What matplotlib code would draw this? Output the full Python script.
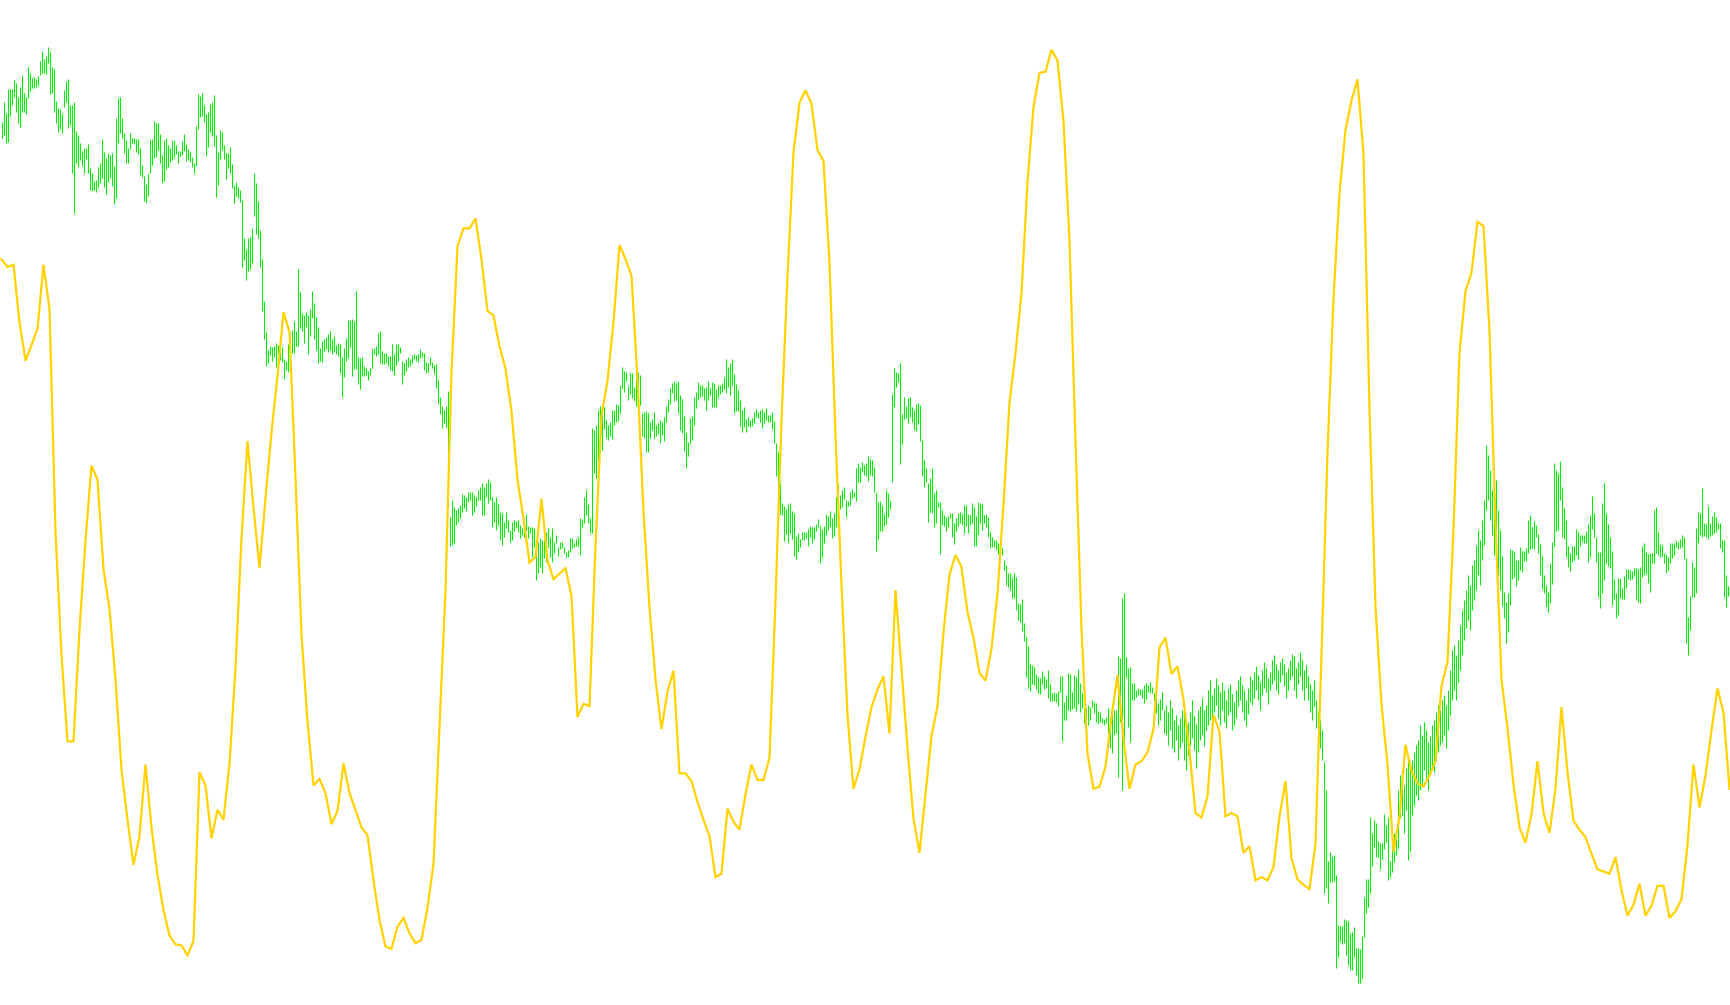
import numpy as np
import matplotlib
matplotlib.use("Agg")
import matplotlib.pyplot as plt

# ---- price bars (chart units, axis inverted: smaller = higher on screen) ----
bar_top = [
    122,102,113,89,89,89,80,83,97,87, 75,93,97,67,73,78,77,79,76,61,
    51,59,56,47,52,67,69,101,108,109, 114,90,81,79,105,105,102,131,135,143,
    151,148,148,144,168,173,181,180,167,163, 139,152,158,153,155,153,166,118,98,97,
    118,133,140,148,133,138,138,139,139,148, 165,176,184,174,139,139,121,123,123,134,
    155,140,138,145,148,141,140,145,151,151, 141,134,144,149,152,157,163,126,94,96,
    93,105,114,112,104,102,95,135,152,130, 132,145,153,153,147,164,185,182,187,190,
    200,238,249,238,237,228,173,183,201,230, 259,301,332,350,346,347,346,343,345,350,
    347,359,361,344,343,330,321,331,269,292, 313,315,312,315,309,291,303,317,327,348,
    341,339,337,334,331,339,336,345,343,344, 357,348,338,320,320,319,321,291,357,358,
    357,366,368,371,368,349,348,346,333,331, 351,353,353,356,356,344,354,344,344,347,
    361,363,359,357,359,355,354,355,354,349, 352,353,362,363,357,362,365,364,380,397,
    406,410,406,391,517,500,507,510,508,505, 494,495,497,492,492,492,495,497,490,487,
    483,487,483,479,482,497,502,497,503,512, 513,522,512,520,530,522,520,521,520,525,
    528,528,514,526,527,527,528,552,542,538, 540,540,532,528,537,528,542,535,547,542,
    542,547,552,550,538,538,543,539,537,518, 519,497,490,504,518,428,430,425,410,406,
    414,407,420,425,422,410,410,404,405,385, 367,371,372,386,373,373,387,378,372,375,
    413,412,411,413,422,419,412,425,423,420, 422,417,406,399,388,383,381,383,381,395,
    399,416,432,442,418,416,397,392,382,385, 385,388,387,381,388,382,383,389,385,385,
    383,377,359,367,363,359,374,384,390,400, 410,407,419,417,420,418,412,409,412,410,
    409,412,408,415,415,412,421,443,452,483, 503,506,509,504,503,511,513,536,533,539,
    532,532,532,529,526,527,527,524,519,526, 529,526,514,516,511,518,513,497,483,495,
    490,487,500,501,492,489,492,468,463,467, 462,465,463,456,459,460,467,493,502,501,
    505,514,490,493,501,394,368,372,373,363, 414,397,406,398,397,407,410,404,403,405,
    440,460,468,483,478,468,493,490,502,502, 510,515,517,516,513,513,523,518,513,512,
    514,505,505,514,515,503,507,516,502,503, 504,515,514,517,532,537,540,540,543,547,
    548,560,565,573,573,578,573,577,603,604, 599,623,637,646,664,665,667,674,677,678,
    671,676,679,670,684,693,692,693,691,676, 676,702,695,673,674,692,675,677,669,683,
    693,707,708,705,707,700,702,703,711,712, 718,719,717,708,718,713,710,710,656,658,
    598,593,657,668,667,683,683,690,688,689, 689,685,683,685,682,687,693,685,703,699,
    692,710,705,712,700,708,720,715,725,718, 710,705,730,722,712,700,716,724,710,706,
    698,710,705,690,680,695,688,678,685,692, 682,690,700,688,684,694,702,690,680,676,
    685,690,700,688,676,680,672,666,675,682, 670,662,668,678,672,660,655,664,670,662,
    658,664,672,668,660,654,656,668,662,652, 660,670,665,676,684,690,680,700,712,720,
    730,762,790,861,852,856,855,875,925,926, 926,919,920,921,933,932,927,948,948,949,
    936,897,879,879,817,833,820,823,841,843, 843,814,825,817,861,843,833,830,790,775,
    770,785,768,760,765,760,752,745,740,725, 735,722,730,742,736,725,720,712,705,710,
    700,695,705,690,670,650,645,655,640,625, 610,600,590,575,585,565,560,545,530,540,
    520,500,445,455,470,490,500,480,510,530, 556,592,602,593,549,550,551,560,560,547,
    551,551,548,520,515,527,521,525,534,544, 556,575,585,592,563,542,463,470,473,461,
    487,508,520,546,553,546,546,529,532,535, 535,535,531,524,515,496,513,537,552,552,
    503,483,513,524,537,551,579,593,578,578, 588,576,569,569,570,571,568,568,569,567,
    546,543,552,554,553,553,510,507,532,544, 545,553,554,557,543,543,543,540,542,539,
    535,537,558,617,596,562,567,528,512,513, 488,523,524,506,523,516,512,517,523,523,
    540,540,575,586,576,
]

bar_bot = [
    138,135,143,142,116,105,97,112,123,127, 112,112,114,98,91,88,88,87,85,75,
    73,73,74,63,94,93,112,123,132,129, 133,107,102,128,125,173,213,163,167,160,
    166,173,159,173,190,191,190,192,187,183, 178,187,194,182,178,186,204,198,143,133,
    138,153,163,163,149,143,144,152,154,175, 177,201,203,196,173,165,158,157,150,163,
    183,181,169,167,162,160,157,154,163,156, 155,151,161,160,162,167,173,166,129,117,
    116,122,156,147,132,136,146,197,185,159, 150,159,179,168,173,188,203,196,198,202,
    267,260,280,271,269,263,216,234,238,267, 311,339,366,363,355,361,357,367,354,360,
    362,379,370,372,351,353,353,346,346,328, 331,343,327,354,336,318,339,350,363,361,
    362,351,349,352,350,354,352,354,356,373, 397,377,361,358,347,376,369,369,384,389,
    376,376,375,380,375,368,354,356,354,363, 364,364,363,366,370,371,375,365,361,353,
    384,375,371,367,366,363,359,361,362,358, 357,370,373,372,365,368,374,388,404,414,
    428,423,427,485,546,545,543,525,522,518, 512,508,511,502,500,515,512,506,500,500,
    515,515,497,503,500,527,522,530,525,540, 545,537,528,532,542,540,531,528,532,538,
    535,537,530,538,533,557,547,580,573,567, 573,558,562,547,557,562,553,543,556,549,
    548,553,557,557,552,548,547,546,546,555, 527,523,515,523,533,533,473,478,460,440,
    450,429,438,440,436,439,425,422,421,413, 388,392,381,400,394,398,401,406,407,405,
    436,438,452,452,438,430,438,436,434,443, 435,441,422,412,404,393,401,400,413,430,
    433,451,468,456,443,440,425,408,400,397, 396,400,410,400,395,407,407,407,397,394,
    392,389,393,387,395,385,413,411,411,426, 432,427,432,426,427,426,423,417,418,422,
    428,423,420,422,422,429,443,476,487,514, 515,541,534,543,533,539,556,559,552,547,
    540,540,538,546,537,543,539,531,527,563, 557,543,535,530,527,538,536,527,508,509,
    507,499,517,506,505,498,497,501,482,482, 472,475,476,481,475,476,492,551,539,531,
    531,526,524,517,509,482,407,387,382,464, 444,419,418,423,417,422,430,431,424,441,
    476,487,482,522,512,513,527,523,507,554, 525,526,531,527,518,537,544,531,526,523,
    525,533,526,533,525,523,546,546,535,523, 530,523,527,537,548,547,547,550,554,553,
    555,570,585,587,590,598,598,610,620,622, 631,641,677,688,691,684,685,689,693,694,
    684,689,688,698,701,701,701,702,706,692, 741,720,720,710,711,709,708,711,704,712,
    708,723,726,725,720,707,713,722,724,722, 723,725,723,734,748,753,735,733,777,722,
    790,750,677,727,742,700,700,697,695,695, 698,703,699,692,693,693,701,713,725,720,
    710,733,735,745,730,748,752,740,760,748, 742,760,770,755,745,738,750,768,752,740,
    735,746,730,725,720,728,712,705,718,725, 710,722,728,715,712,730,725,718,706,700,
    712,720,726,714,702,705,698,690,700,710, 695,688,692,704,690,684,680,690,694,682,
    675,686,698,690,680,676,690,698,684,676, 690,700,688,700,712,720,706,728,740,748,
    760,893,888,903,882,882,881,968,957,941, 944,943,955,965,970,970,957,975,983,983,
    978,937,913,907,893,866,847,857,857,869, 859,849,842,880,877,872,862,855,848,818,
    816,833,810,860,851,815,805,795,800,790, 785,770,778,790,775,768,772,760,752,745,
    742,735,748,730,715,700,690,700,682,670, 655,640,628,620,630,610,600,590,575,585,
    560,545,510,500,520,535,555,540,575,590, 606,618,643,632,605,579,577,586,580,570,
    572,561,561,553,549,548,549,537,553,575, 589,593,607,612,603,584,546,531,530,500,
    537,539,557,567,571,562,560,555,559,546, 541,543,543,562,557,529,537,562,597,608,
    593,580,563,566,568,605,599,618,615,598, 599,599,588,579,580,579,576,600,602,603,
    577,575,574,583,592,563,563,553,555,557, 556,563,573,570,563,558,555,547,549,548,
    547,559,643,655,630,597,597,593,543,535, 537,536,537,539,536,535,533,532,529,548,
    552,597,607,596,592,
]

# ---- oscillator line (own scale, inverted), one value every 3 bars ----
osc_step = 3
osc_vals = [
    235,242,240,292,327,313,298,240,280,482, 594,672,672,571,490,422,435,516,552,616,
    698,743,784,758,693,750,793,825,848,856, 857,866,853,700,712,760,734,743,692,606,
    488,400,460,515,452,392,341,283,301,433, 575,654,712,706,719,747,735,692,719,734,
    750,757,798,834,858,860,840,832,846,855, 852,823,783,660,535,337,223,207,207,198,
    235,282,286,314,334,373,435,470,510,505, 452,508,525,520,515,540,650,638,640,495,
    377,345,292,222,235,250,344,464,551,616, 661,627,608,701,701,708,727,743,758,795,
    792,733,745,752,720,693,707,707,687,544, 381,251,138,93,82,94,136,146,238,395,
    530,648,715,697,668,641,625,613,665,535, 606,678,742,773,720,667,640,573,521,503,
    514,555,578,610,617,588,538,457,365,320, 266,165,97,66,65,45,55,110,218,400,
    570,683,715,713,695,650,612,670,715,693, 690,682,661,587,578,611,604,634,681,737,
    741,722,648,663,740,737,740,773,767,798, 795,798,786,740,708,778,797,802,806,765,
    594,410,270,175,118,91,72,140,370,550, 639,693,772,740,675,699,710,713,703,690,
    622,600,480,320,264,247,201,205,300,474, 616,660,711,750,764,738,690,737,755,715,
    641,700,744,752,759,774,788,790,792,777, 807,830,820,801,830,821,803,803,832,826,
    815,766,693,732,703,662,624,646,715,
]

bar_color = "#00ee00"
osc_color = "#ffd200"

W, H, DPI = 1730, 1005, 100
fig = plt.figure(figsize=(W / DPI, H / DPI), dpi=DPI, facecolor="white")
ax = fig.add_axes([0, 0, 1, 1])
ax2 = ax.twinx()

n = len(bar_top)
idx = np.arange(n)
ax.vlines(idx, bar_top, bar_bot, colors=bar_color, linewidth=0.75)

osc_x = np.arange(len(osc_vals)) * osc_step
ax2.plot(osc_x, osc_vals, color=osc_color, linewidth=1.6, solid_joinstyle="miter")

for a in (ax, ax2):
    a.set_xlim(-0.75, n - 0.75)
    a.axis("off")
ax.set_ylim(H, 0)
ax2.set_ylim(911, 0)
ax.set_facecolor("white")

fig.savefig("out.png", dpi=DPI, facecolor="white")
